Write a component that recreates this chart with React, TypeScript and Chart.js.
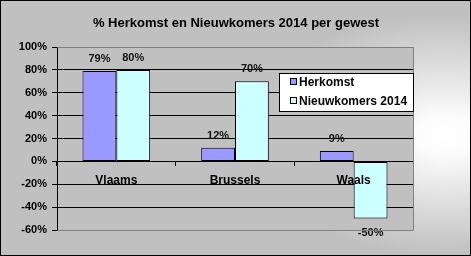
import React, { useEffect, useRef } from 'react';
import { Chart, registerables } from 'chart.js';

Chart.register(...registerables);

const titleText = '% Herkomst en Nieuwkomers 2014 per gewest';
const categories = ['Vlaams', 'Brussels', 'Waals'];
const seriesNames = ['Herkomst', 'Nieuwkomers 2014'];
const herkomst = [79, 12, 9];
const nieuwkomers = [80, 70, -50];
const seriesColors = ['#9999FF', '#CCFFFF'];
const yMin = -60;
const yMax = 100;
const yStep = 20;

const FONT = '"Liberation Sans", Arial, sans-serif';

const W = 471;
const H = 256;

const decorPlugin = {
  id: 'decor',
  beforeDraw(chart: any) {
    const ctx = chart.ctx;
    const { left, top, right, bottom } = chart.chartArea;
    ctx.save();
    // outer background: elliptical gradient, white at right-middle
    ctx.fillStyle = '#C0C0C0';
    ctx.fillRect(0, 0, W, H);
    ctx.save();
    const cx = 445, cy = 135, sy = 0.6, r = 200;
    ctx.translate(cx, cy);
    ctx.scale(1, sy);
    const g = ctx.createRadialGradient(0, 0, 0, 0, 0, r);
    g.addColorStop(0, '#FFFFFF');
    g.addColorStop(0.15, '#FCFCFC');
    g.addColorStop(1, '#C0C0C0');
    ctx.fillStyle = g;
    ctx.fillRect(-cx, -cy / sy, W, H / sy);
    ctx.restore();
    // plot area
    ctx.fillStyle = '#C0C0C0';
    ctx.fillRect(left, top, right - left, bottom - top);
    ctx.restore();
  },
  afterDraw(chart: any) {
    const ctx = chart.ctx;
    const { left, top, right, bottom } = chart.chartArea;
    ctx.save();
    // plot border (top, right, bottom) gray
    ctx.strokeStyle = '#808080';
    ctx.lineWidth = 1;
    ctx.beginPath();
    ctx.moveTo(Math.round(left) + 0.5, Math.round(top) + 0.5);
    ctx.lineTo(Math.round(right) + 0.5, Math.round(top) + 0.5);
    ctx.lineTo(Math.round(right) + 0.5, Math.round(bottom) + 0.5);
    ctx.lineTo(Math.round(left) + 0.5, Math.round(bottom) + 0.5);
    ctx.stroke();

    // title
    ctx.fillStyle = '#000';
    ctx.font = `bold 13px ${FONT}`;
    ctx.textAlign = 'center';
    ctx.textBaseline = 'middle';
    ctx.fillText(titleText, 236, 23);

    // legend
    const lx = 279, ly = 73, lw = 134, lh = 38;
    ctx.fillStyle = '#FFFFFF';
    ctx.fillRect(lx, ly, lw, lh);
    ctx.strokeStyle = '#000';
    ctx.strokeRect(lx + 0.5, ly + 0.5, lw, lh);
    ctx.font = `bold 12px ${FONT}`;
    ctx.textAlign = 'left';
    ctx.textBaseline = 'middle';
    seriesNames.forEach((name, i) => {
      const cy = ly + 9 + i * 19;
      ctx.fillStyle = seriesColors[i];
      ctx.fillRect(290, cy - 3, 6, 6);
      ctx.strokeStyle = '#000';
      ctx.strokeRect(290.5, cy - 3.5, 6, 6);
      ctx.fillStyle = '#000';
      ctx.fillText(name, 299, cy + 0.5);
    });

    // outer border
    ctx.strokeStyle = '#000';
    ctx.lineWidth = 1;
    ctx.strokeRect(0.5, 0.5, W - 1, H - 1);
    ctx.restore();
  },
  afterDatasetsDraw(chart: any) {
    const ctx = chart.ctx;
    ctx.save();
    ctx.fillStyle = '#111';
    ctx.font = `bold 11px ${FONT}`;
    ctx.textAlign = 'center';
    ctx.textBaseline = 'middle';
    chart.data.datasets.forEach((ds: any, di: number) => {
      const meta = chart.getDatasetMeta(di);
      meta.data.forEach((el: any, i: number) => {
        const v = ds.data[i];
        const label = `${v}%`;
        if (v >= 0) {
          ctx.fillText(label, el.x, el.y - 12);
        } else {
          ctx.fillText(label, el.x, el.y + 14);
        }
      });
    });
    ctx.restore();
  },
};

export default function App() {
  const ref = useRef<HTMLCanvasElement | null>(null);
  useEffect(() => {
    if (!ref.current) return;
    const chart = new Chart(ref.current, {
      type: 'bar',
      data: {
        labels: categories,
        datasets: [
          {
            label: seriesNames[0],
            data: herkomst,
            backgroundColor: seriesColors[0],
            borderColor: '#000',
            borderWidth: 1,
            borderSkipped: false,
            categoryPercentage: 0.57,
            barPercentage: 1.0,
          },
          {
            label: seriesNames[1],
            data: nieuwkomers,
            backgroundColor: seriesColors[1],
            borderColor: '#000',
            borderWidth: 1,
            borderSkipped: false,
            categoryPercentage: 0.57,
            barPercentage: 1.0,
          },
        ],
      },
      options: {
        responsive: false,
        animation: false,
        events: [],
        layout: { padding: { left: 0, top: 47, right: 58, bottom: 26 } },
        plugins: {
          legend: { display: false },
          title: { display: false },
          tooltip: { enabled: false },
        },
        scales: {
          x: {
            type: 'category',
            position: { y: 0 } as any,
            grid: {
              display: true,
              drawOnChartArea: false,
              drawTicks: true,
              tickLength: 4,
              color: '#000',
              offset: true,
            },
            border: { display: true, color: '#000', width: 1 },
            ticks: {
              z: 1,
              color: '#000',
              font: { family: FONT, size: 12, weight: 'bold' },
              padding: 8,
            } as any,
          },
          y: {
            min: yMin,
            max: yMax,
            ticks: {
              stepSize: yStep,
              color: '#000',
              font: { family: FONT, size: 11, weight: 'bold' },
              padding: 5,
              callback: (v: any) => `${v}%`,
            },
            grid: {
              color: (c: any) =>
                c.tick && (c.tick.value === yMax || c.tick.value === yMin) ? '#808080' : '#000',
              tickColor: '#000',
              tickLength: 5,
              lineWidth: 1,
            },
            border: { display: true, color: '#000', width: 1 },
            afterFit: (scale: any) => {
              scale.width = 57;
            },
          },
        },
      },
      plugins: [decorPlugin],
    });
    return () => chart.destroy();
  }, []);
  return (
    <div style={{ position: 'fixed', left: 0, top: 0, width: W, height: H }}>
      <canvas ref={ref} width={W} height={H} style={{ display: 'block' }} />
    </div>
  );
}
